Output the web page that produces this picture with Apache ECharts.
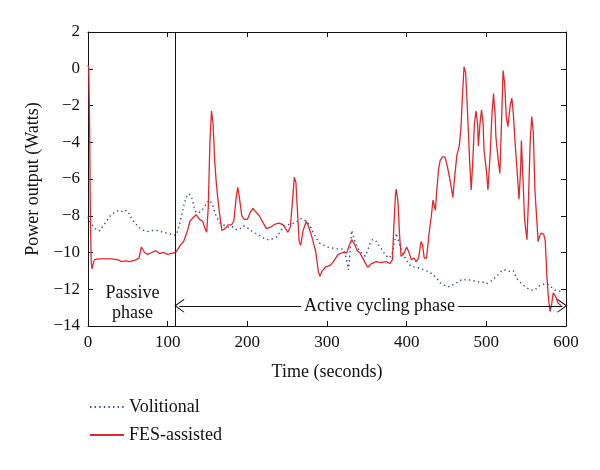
<!DOCTYPE html>
<html>
<head>
<meta charset="utf-8">
<script src="https://cdn.jsdelivr.net/npm/echarts@6/dist/echarts.min.js"></script>
<style>html,body{margin:0;padding:0;background:#fff}#c{width:600px;height:470px}</style>
</head>
<body>
<div id="c"></div>
<script>
// Time (s) and power (W) for the FES-assisted trial
const fesT = [0,1,2,3,4,5,6,8,12,20,30,38,42,48,52,56,60,64,67,69,71,75,80,85,90,95,100,105,110,113,116,120,125,128,132,136,140,144,147,149,151,153,155,157,159,161,164,168,172,176,180,183,186,188,190,193,196,200,204,207,211,215,220,224,230,235,240,245,251,254,257,259,261,263,265,267,270,274,277,282,286,289,291,294,298,304,308,314,320,325,328,331,334,338,341,346,351,356,362,368,374,379,382,384,386,387,389,391,393,396,400,403,406,409,412,415,418,420,422,425,428,431,433,436,438,440,442,445,448,451,455,458,460,463,466,468,470,472,474,476,479,481,483,485,487,489,490,492,494,496,497,500,502,505,507,509,511,512,515,517,519,521,523,525,527,530,532,534,536,538,541,543,544,546,548,551,553,555,557,559,561,563,565,567,569,572,574,576,578,580,582,584,587,590,594];
const fesV = [0.2,0,-3,-8,-10.5,-10.9,-10.7,-10.4,-10.35,-10.35,-10.35,-10.4,-10.5,-10.45,-10.5,-10.45,-10.4,-10.3,-9.7,-9.8,-10.0,-10.1,-10.0,-9.9,-10.05,-10.0,-10.1,-10.05,-10.0,-9.8,-9.6,-9.4,-8.8,-8.3,-8.1,-7.95,-8.2,-8.3,-8.7,-8.9,-7.5,-4.0,-2.3,-3.0,-5.0,-6.2,-7.5,-8.8,-8.7,-8.5,-8.5,-8.3,-7.0,-6.45,-7.0,-8.0,-8.2,-8.2,-7.8,-7.6,-7.8,-8.0,-8.4,-8.7,-8.6,-8.45,-8.4,-8.5,-8.9,-8.6,-7.0,-5.9,-6.2,-7.8,-9.4,-9.6,-8.8,-8.3,-8.6,-9.3,-10.0,-11.0,-11.3,-11.0,-10.8,-10.7,-10.5,-10.1,-10.0,-10.0,-9.6,-9.3,-9.5,-9.9,-10.0,-10.4,-10.8,-10.6,-10.5,-10.55,-10.5,-10.6,-10.4,-8.5,-6.8,-6.55,-7.2,-9.0,-10.2,-10.1,-9.7,-10.0,-10.4,-10.3,-10.5,-10.3,-9.4,-9.6,-10.3,-10.3,-9.0,-8.0,-7.15,-7.7,-6.5,-5.5,-5.0,-4.8,-4.8,-5.3,-6.2,-7.0,-6.0,-4.7,-4.2,-3.3,-1.5,0.1,-0.2,-2.0,-5.0,-6.6,-5.0,-3.0,-2.3,-3.0,-4.2,-3.0,-2.25,-3.0,-4.4,-5.5,-6.6,-4.5,-2.5,-1.35,-2.5,-3.7,-5.0,-5.7,-3.0,-0.1,-0.8,-2.6,-3.15,-2.0,-1.6,-2.5,-4.0,-5.15,-7.1,-5.5,-3.9,-6.0,-8.2,-9.3,-7.0,-4.0,-2.6,-3.5,-6.6,-8.0,-9.4,-9.1,-8.95,-9.0,-9.4,-11.3,-12.5,-13.2,-12.8,-12.2,-12.4,-12.75,-12.9];

// Time (s) and power (W) for the volitional trial
const volT = [0,3,7,11,15,19,23,28,32,36,40,44,48,52,55,59,63,68,72,76,81,86,90,95,99,104,108,111,114,118,121,124,127,129,131,134,137,141,145,149,153,157,161,166,170,174,178,182,186,190,195,200,204,208,212,216,220,224,228,232,237,241,245,250,254,258,263,268,272,275,279,283,287,291,296,301,306,312,316,320,323,325,327,329,331,333,335,338,341,345,348,351,354,357,361,365,369,373,377,381,384,387,390,393,397,401,405,410,416,422,428,433,438,442,446,450,455,460,465,470,475,480,485,490,495,500,505,510,515,520,525,530,534,538,542,547,552,557,561,565,569,574,578,582,586,590,594];
const volV = [-8.05,-8.4,-8.6,-8.8,-8.8,-8.55,-8.3,-8.0,-7.85,-7.75,-7.7,-7.8,-7.7,-7.9,-8.2,-8.4,-8.6,-8.75,-8.85,-8.85,-8.8,-8.8,-8.85,-8.9,-8.95,-9.0,-9.05,-9.05,-8.6,-7.9,-7.3,-6.95,-6.8,-6.7,-7.1,-7.7,-7.85,-7.8,-7.6,-7.3,-7.15,-7.5,-8.05,-8.4,-8.5,-8.6,-8.65,-8.6,-8.75,-8.75,-8.55,-8.65,-8.8,-8.9,-9.0,-9.1,-9.2,-9.3,-9.3,-9.25,-9.15,-8.9,-8.6,-8.5,-8.45,-8.4,-8.3,-8.15,-8.25,-8.3,-8.6,-8.95,-9.25,-9.5,-9.6,-9.7,-9.75,-9.8,-9.8,-9.8,-10.1,-10.5,-10.95,-9.9,-8.8,-9.1,-9.4,-9.7,-9.95,-10.1,-10.2,-9.9,-9.5,-9.3,-9.35,-9.6,-9.85,-10.1,-10.3,-10.2,-9.6,-8.95,-9.4,-9.8,-10.2,-10.5,-10.75,-10.8,-10.85,-10.95,-11.05,-11.2,-11.4,-11.65,-11.75,-11.85,-11.85,-11.7,-11.6,-11.45,-11.5,-11.5,-11.55,-11.6,-11.6,-11.7,-11.6,-11.4,-11.2,-10.95,-10.95,-11.05,-11.0,-11.4,-11.6,-11.8,-11.95,-12.05,-12.05,-11.85,-11.75,-11.7,-11.75,-11.9,-12.05,-12.1,-12.1];

// Phase annotations
const phaseBoundary = 110;
const arrowLevel = -12.9;
const arrowStart = 114.5;
const arrowEnd = 595.5;
const passiveLabel = { t: 56, v: -12.75, text: 'Passive\nphase' };
const activeLabel = { t: 366, v: -12.9, text: 'Active cycling phase' };
const xTicks = { min: 0, max: 600, step: 100 };
const yTicks = { min: -14, max: 2, step: 2 };

const pair = (ts, vs) => ts.map((t, i) => [t, vs[i]]);
const FONT = '"Liberation Serif", "DejaVu Serif", serif';
const INK = '#111';
const minus = v => (v < 0 ? '\u2212' + Math.abs(v) : String(v));
const chevron = 'path://M0,0 L10,14 L8.4,14 L0,2.6 L-8.4,14 L-10,14 Z';

const baseX = {
  type: 'value', min: xTicks.min, max: xTicks.max, interval: xTicks.step,
  axisLine: { show: true, onZero: false, lineStyle: { color: INK, width: 1 } },
  axisTick: { show: true, inside: true, length: 5, lineStyle: { color: INK } },
  splitLine: { show: false }
};
const baseY = {
  type: 'value', min: yTicks.min, max: yTicks.max, interval: yTicks.step,
  axisLine: { show: true, onZero: false, lineStyle: { color: INK, width: 1 } },
  axisTick: { show: true, inside: true, length: 5, lineStyle: { color: INK } },
  splitLine: { show: false }
};

const chart = echarts.init(document.getElementById('c'), null, { renderer: 'canvas' });
chart.setOption({
  animation: false,
  backgroundColor: '#fff',
  grid: { left: 88, right: 34, top: 32, bottom: 144, containLabel: false },
  xAxis: [
    Object.assign({}, baseX, {
      position: 'bottom',
      name: 'Time (seconds)', nameLocation: 'middle', nameGap: 37,
      nameTextStyle: { fontFamily: FONT, fontSize: 18, color: INK },
      axisLabel: { fontFamily: FONT, fontSize: 17, color: INK, margin: 8 }
    }),
    Object.assign({}, baseX, { position: 'top', axisLabel: { show: false } })
  ],
  yAxis: [
    Object.assign({}, baseY, {
      position: 'left',
      name: 'Power output (Watts)', nameLocation: 'middle', nameGap: 45,
      nameTextStyle: { fontFamily: FONT, fontSize: 18, color: INK },
      axisLabel: { fontFamily: FONT, fontSize: 17, color: INK, margin: 8, formatter: minus }
    }),
    Object.assign({}, baseY, { position: 'right', axisLabel: { show: false } })
  ],
  legend: {
    data: ['Volitional', 'FES-assisted'],
    orient: 'vertical', left: 84, top: 393,
    itemWidth: 34, itemHeight: 14, itemGap: 10,
    itemStyle: { opacity: 0 },
    textStyle: { fontFamily: FONT, fontSize: 18, color: INK }
  },
  series: [
    {
      name: 'Volitional', type: 'line', data: pair(volT, volV),
      symbol: 'none', smooth: false, z: 3,
      lineStyle: { color: '#2f4a9a', width: 1.4, type: [1.4, 3.2] },
      itemStyle: { color: '#2f4a9a' }
    },
    {
      name: 'FES-assisted', type: 'line', data: pair(fesT, fesV),
      symbol: 'none', smooth: false, z: 4,
      lineStyle: { color: '#e3262b', width: 1.3 },
      itemStyle: { color: '#e3262b' }
    },
    {
      name: 'phases', type: 'line', data: [], z: 5, silent: true,
      markLine: {
        silent: true, animation: false,
        label: { show: false },
        lineStyle: { color: INK, width: 1, type: 'solid' },
        data: [
          [{ coord: [phaseBoundary, yTicks.max], symbol: 'none' }, { coord: [phaseBoundary, yTicks.min], symbol: 'none' }],
          [{ coord: [arrowStart, arrowLevel], symbol: chevron, symbolSize: [14, 10] },
           { coord: [arrowEnd, arrowLevel], symbol: chevron, symbolSize: [14, 10] }]
        ]
      }
    },
    {
      name: 'labels', type: 'scatter', z: 10, silent: true,
      symbolSize: 0,
      itemStyle: { opacity: 1 },
      data: [
        { value: [passiveLabel.t, passiveLabel.v], label: { formatter: passiveLabel.text, backgroundColor: 'transparent' } },
        { value: [activeLabel.t, activeLabel.v], label: { formatter: activeLabel.text } }
      ],
      label: {
        show: true, position: 'inside', fontFamily: FONT, fontSize: 18, color: INK,
        lineHeight: 20, align: 'center', verticalAlign: 'middle',
        backgroundColor: '#fff', padding: [1, 3]
      }
    }
  ]
});
</script>
</body>
</html>
